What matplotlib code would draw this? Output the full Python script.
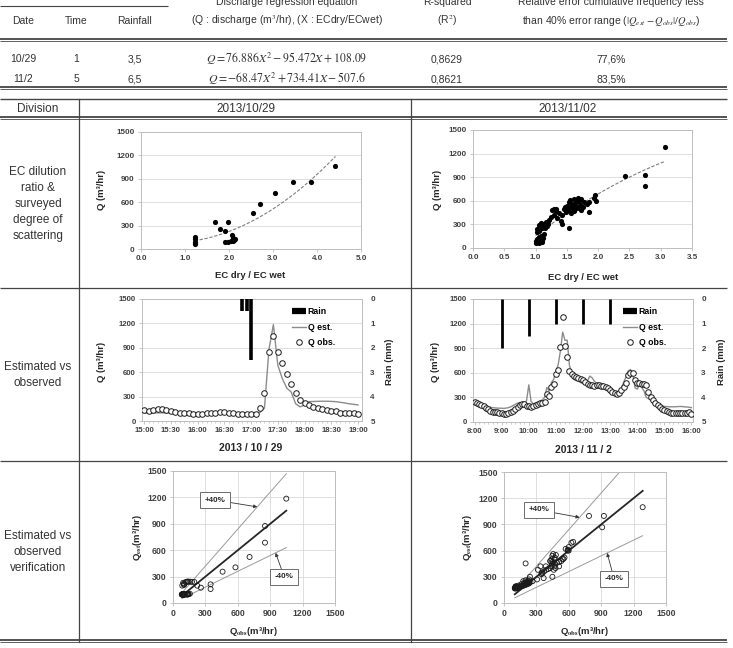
import numpy as np
import matplotlib.pyplot as plt
from matplotlib.lines import Line2D

# ---- data ----
# EC dilution ratio vs Q, 2013/10/29
ec_1029 = [4.42, 3.86, 3.45, 3.05, 2.70, 2.54, 1.98, 1.68, 1.80, 1.91, 2.06, 2.10,
           2.14, 1.92, 1.98, 2.04, 2.08, 2.11, 1.22, 1.22, 1.22, 1.22, 1.22]
q_1029 = [1059, 857, 857, 724, 579, 459, 351, 351, 261, 231, 180, 137,
          124, 86, 94, 107, 103, 116, 150, 124, 94, 73, 60]
fit_1029 = [76.886, -95.472, 108.09]

# EC dilution ratio vs Q, 2013/11/02
ec_1102 = [1.00, 1.01, 1.02, 1.03, 1.04, 1.05, 1.06, 1.07, 1.08, 1.09, 1.10, 1.11, 1.12,
           1.02, 1.03, 1.05, 1.06, 1.08, 1.10, 1.12, 1.13, 1.15, 1.17, 1.18, 1.20,
           1.22, 1.25, 1.27, 1.29, 1.30, 1.32, 1.33, 1.35, 1.38, 1.40, 1.42,
           1.43, 1.45, 1.47, 1.48, 1.50, 1.52, 1.53, 1.54, 1.55, 1.56, 1.57, 1.58, 1.60, 1.61, 1.62,
           1.63, 1.65, 1.66, 1.68, 1.70, 1.71, 1.72, 1.73, 1.75, 1.77,
           1.82, 1.86, 1.86, 1.93, 1.95, 1.97, 2.43, 2.75, 2.75, 3.07]
q_1102 = [90, 60, 120, 75, 100, 140, 65, 110, 85, 150, 70, 95, 125,
          200, 240, 290, 220, 320, 260, 300, 180, 250, 330, 280, 310,
          360, 400, 480, 500, 420, 470, 500, 380, 440, 340, 300,
          420, 500, 520, 460, 540, 480, 250, 590, 610, 520, 450, 560, 500, 620, 470,
          540, 580, 510, 630, 600, 550, 480, 620, 520, 590,
          560, 456, 590, 640, 680, 600, 917, 934, 790, 1284]
fit_1102 = [-68.47, 734.41, -507.6]

# time series 2013/10/29, 5 min steps from 15:00
obs_1029 = [136, 127, 136, 143, 143, 135, 125, 108, 100, 95, 94, 90, 86,
            86, 94, 100, 102, 105, 110, 100, 94, 86, 90, 82, 82, 86,
            156, 348, 852, 1049, 852, 709, 578, 459, 348, 258, 225,
            197, 176, 160, 143, 135, 127, 119, 94, 102, 102, 102, 86]
est_1029 = [98, 97, 99, 100, 100, 99, 98, 97, 96, 96, 97, 98, 98,
            97, 96, 97, 98, 99, 98, 97, 96, 97, 98, 97, 96, 97,
            105, 159, 875, 1186, 686, 523, 405, 356, 212, 174, 197,
            239, 240, 242, 243, 243, 241, 238, 230, 222, 212, 205, 198]
rain_t_1029 = [110, 115, 120]          # minutes after 15:00
rain_1029 = [0.5, 0.5, 2.5]
ticks_1029 = ['15:00', '15:30', '16:00', '16:30', '17:00', '17:30', '18:00', '18:30', '19:00']

# time series 2013/11/02, 5 min steps from 8:00
obs_1102 = [245, 232, 220, 205, 190, 172, 155, 140, 128, 122, 118, 115,
            108, 100, 102, 108, 120, 135, 160, 185, 210, 222, 215, 200,
            200, 178, 190, 205, 218, 226, 232, 240, 338, 314, 428, 469,
            591, 640, 909, 1284, 925, 787, 624, 590, 560, 550, 542, 530,
            510, 490, 469, 455, 448, 440, 448, 457, 445, 436, 428, 410,
            390, 370, 355, 346, 350, 387, 430, 480, 571, 599, 599, 510,
            477, 472, 469, 461, 448, 367, 306, 265, 232, 205, 183, 160,
            143, 130, 120, 112, 110, 110, 110, 108, 110, 112, 115, 122, 100]
est_1102 = [240, 228, 220, 212, 205, 195, 188, 180, 175, 172, 170, 168,
            168, 166, 170, 175, 185, 200, 215, 230, 238, 232, 220, 260,
            453, 250, 222, 230, 240, 255, 270, 300, 420, 380, 480, 520,
            610, 700, 867, 1097, 997, 997, 690, 600, 520, 505, 500, 480,
            470, 460, 500, 560, 540, 500, 470, 460, 440, 420, 400, 390,
            380, 360, 340, 330, 350, 420, 480, 550, 620, 640, 600, 420,
            400, 450, 420, 380, 300, 285, 270, 250, 224, 210, 200, 195,
            190, 188, 186, 185, 185, 186, 188, 190, 188, 185, 183, 180, 175]
rain_t_1102 = [9, 10, 11, 12, 13]      # hours
rain_1102 = [2.0, 1.5, 1.0, 1.0, 1.0]
ticks_1102 = ['8:00', '9:00', '10:00', '11:00', '12:00', '13:00', '14:00', '15:00', '16:00']

# summary table
tab_rows = [
    ['10/29', '1', '3,5', r'$Q=76.886X^2-95.472X+108.09$', '0,8629', '77,6%'],
    ['11/2', '5', '6,5', r'$Q=-68.47X^2+734.41X-507.6$', '0,8621', '83,5%'],
]

W, H = 733, 648
plt.rcParams['font.family'] = ['Liberation Sans', 'DejaVu Sans']
plt.rcParams['mathtext.fontset'] = 'stix'

fig = plt.figure(figsize=(W / 100, H / 100), dpi=100)
bg = fig.add_axes([0, 0, 1, 1])
bg.set_xlim(0, W)
bg.set_ylim(H, 0)
bg.axis('off')

LC = '#444444'
TC = '#333333'


def box(x0, y0, x1, y1):
    return fig.add_axes([x0 / W, 1 - y1 / H, (x1 - x0) / W, (y1 - y0) / H])


def hline(y, x0=0, x1=727, lw=0.8, c=LC):
    bg.plot([x0, x1], [y, y], color=c, lw=lw, solid_capstyle='butt')


def dline(y):
    hline(y, lw=1.3)
    hline(y + 2.2, lw=0.6)


def txt(x, y, s, size=8, **kw):
    kw.setdefault('ha', 'center')
    kw.setdefault('va', 'center')
    kw.setdefault('color', TC)
    bg.text(x, y, s, fontsize=size, **kw)


def style(ax, xt, xl, yt, yl, size=5.8, grid='y'):
    ax.set_xticks(xt, xl, fontweight='bold')
    ax.set_yticks(yt, yl, fontweight='bold')
    for s in ax.spines.values():
        s.set_color('#bdbdbd')
        s.set_linewidth(0.7)
    ax.grid(axis=grid, color='#d9d9d9', lw=0.6)
    ax.set_axisbelow(True)
    ax.tick_params(labelsize=size, color='#bdbdbd', labelcolor='#404040',
                   length=2.5, width=0.6, pad=2)


# ---- top table ----
cols = [23, 76, 135, 287, 447, 611]
txt(287, 2, 'Discharge regression equation', 7.5)
txt(447, 2, 'R-squared', 7.5)
txt(611, 2, 'Relative error cumulative frequency less', 7.5)
hline(6, 0, 168, lw=0.8)
head = ['Date', 'Time', 'Rainfall', r'(Q : discharge (m$^3$/hr), (X : ECdry/ECwet)',
        r'(R$^2$)', r'than 40% error range ($|Q_{est}-Q_{obs}|/Q_{obs}$)']
for x, s in zip(cols, head):
    txt(x, 21, s, 7.5)
dline(39)
for row, y in zip(tab_rows, [59, 79]):
    for x, s in zip(cols, row):
        txt(x, y, s, 8.5 if s.startswith('$') else 7.5)
dline(87)

# ---- lower table frame ----
hline(99, lw=1.0)
dline(117)
hline(288, lw=0.9)
hline(461, lw=0.9)
dline(640)
for x in [79, 411]:
    bg.plot([x, x], [99, 642], color=LC, lw=0.9)
txt(38, 109, 'Division', 8.5)
txt(246, 109, '2013/10/29', 8.5)
txt(568, 109, '2013/11/02', 8.5)
txt(38, 204, 'EC dilution\nratio &\nsurveyed\ndegree of\nscattering', 8.5, linespacing=1.45)
txt(38, 375, 'Estimated vs\nobserved', 8.5, linespacing=1.45)
txt(38, 552, 'Estimated vs\nobserved\nverification', 8.5, linespacing=1.45)

bold = dict(fontweight='bold', color='#262626')
qticks = [0, 300, 600, 900, 1200, 1500]
qlabs = [str(v) for v in qticks]

# ---- row 1: EC ratio scatter ----
ax = box(141, 132, 361, 249)
ax.scatter(ec_1029, q_1029, s=14, color='black', zorder=3, lw=0)
xs = np.linspace(min(ec_1029), max(ec_1029), 60)
ax.plot(xs, np.polyval(fit_1029, xs), ls=(0, (3, 1.5)), color='#7f7f7f', lw=0.8)
ax.set_xlim(0, 5)
ax.set_ylim(0, 1500)
style(ax, np.arange(0, 5.1, 1.0), ['0.0', '1.0', '2.0', '3.0', '4.0', '5.0'], qticks, qlabs)
txt(213, 141, 'y = 76.886x² - 95.472x + 108.09', 6.3, **bold)
txt(215, 153, 'R² = 0.8629', 6.3, **bold)
txt(250, 276, 'EC dry / EC wet', 6.8, **bold)
txt(102, 190, 'Q (m³/hr)', 6.8, rotation=90, **bold)

ax = box(473, 130, 692, 248)
ax.scatter(ec_1102, q_1102, s=14, color='black', zorder=3, lw=0)
xs = np.linspace(min(ec_1102), max(ec_1102), 60)
ax.plot(xs, np.polyval(fit_1102, xs), ls=(0, (3, 1.5)), color='#7f7f7f', lw=0.8)
ax.set_xlim(0, 3.5)
ax.set_ylim(0, 1500)
style(ax, np.arange(0, 3.6, 0.5), ['0.0', '0.5', '1.0', '1.5', '2.0', '2.5', '3.0', '3.5'],
      qticks, qlabs)
txt(568, 148, 'y = -68.47x² + 734.41x - 507.6', 6.3, **bold)
txt(568, 161, 'R² = 0.8621', 6.3, **bold)
txt(583, 277, 'EC dry / EC wet', 6.8, **bold)
txt(438, 190, 'Q (m³/hr)', 6.8, rotation=90, **bold)


# ---- row 2: time series ----
def series(ax, t, obs, est, rt, rv, xt, xl, xlim, minor, barw):
    ax.plot(t, est, color='#8c8c8c', lw=1.0, zorder=2)
    ax.plot(t, obs, ls='none', marker='o', ms=4, mfc='white', mec='#1a1a1a', mew=0.7, zorder=3)
    ax.set_xlim(*xlim)
    ax.set_ylim(0, 1500)
    style(ax, xt, xl, qticks, qlabs, size=5.6)
    ax.set_xticks(minor, minor=True)
    ax.tick_params(axis='x', which='minor', length=1.5, color='#bdbdbd', width=0.5)
    ax2 = ax.twinx()
    ax2.vlines(rt, 0, rv, color='black', lw=barw)
    ax2.set_ylim(5, 0)
    ax2.set_yticks([0, 1, 2, 3, 4, 5], ['0', '1', '2', '3', '4', '5'], fontweight='bold')
    ax2.tick_params(labelsize=5.8, length=0, labelcolor='#404040', pad=6)
    for s in ax2.spines.values():
        s.set_visible(False)
    hs = [Line2D([], [], color='black', lw=4.5, solid_capstyle='butt'),
          Line2D([], [], color='#8c8c8c', lw=1.0),
          Line2D([], [], ls='none', marker='o', ms=4, mfc='white', mec='#1a1a1a', mew=0.7)]
    ax2.legend(hs, ['Rain', 'Q est.', 'Q obs.'], loc='upper left', bbox_to_anchor=(0.66, 0.97),
               frameon=False, handlelength=1.7, handletextpad=0.15, labelspacing=0.75,
               borderpad=0, prop=dict(size=6.3, weight='bold'))
    return ax2


t1 = np.arange(len(obs_1029)) * 5
ax = box(142, 299, 362, 421)
series(ax, t1, obs_1029, est_1029, rain_t_1029, rain_1029, np.arange(0, 241, 30), ticks_1029,
       (-2.5, 244.5), np.arange(0, 241, 5), 2.6)
txt(102, 362, 'Q (m³/hr)', 6.8, rotation=90, **bold)
txt(389, 362, 'Rain (mm)', 6.8, rotation=90, **bold)
txt(251, 448, '2013 / 10 / 29', 7.5, **bold)

t2 = 8 + np.arange(len(obs_1102)) * 5 / 60
ax = box(473, 299, 693, 422)
series(ax, t2, obs_1102, est_1102, rain_t_1102, rain_1102, np.arange(8, 16.1, 1), ticks_1102,
       (7.94, 16.06), 8 + np.arange(0, 97, 2) * 5 / 60, 2.0)
txt(436, 362, 'Q (m³/hr)', 6.8, rotation=90, **bold)
txt(722, 362, 'Rain (mm)', 6.8, rotation=90, **bold)
txt(583, 450, '2013 / 11 / 2', 7.5, **bold)


# ---- row 3: verification ----
def verify(ax, obs, est, plus, minus):
    obs = np.asarray(obs, float)
    est = np.asarray(est, float)
    xl = np.array([obs.min(), obs.max()])
    ax.plot(xl, xl * 1.4, color='#9a9a9a', lw=0.7)
    ax.plot(xl, xl * 0.6, color='#9a9a9a', lw=0.7)
    ax.plot(xl, xl, color='#262626', lw=1.3)
    ax.scatter(obs, est, s=13, facecolors='none', edgecolors='#1a1a1a', lw=0.6, zorder=3)
    ax.set_xlim(0, 1500)
    ax.set_ylim(0, 1500)
    style(ax, qticks, qlabs, qticks, qlabs, size=6.3, grid='both')
    bb = dict(boxstyle='square,pad=0.55', fc='white', ec='#555555', lw=0.6)
    ap = dict(arrowstyle='-|>', color='#333333', lw=0.6, mutation_scale=5, shrinkA=0, shrinkB=0)
    for (tx, ty, px, py), s in zip([plus, minus], ['+40%', '-40%']):
        ax.annotate(s, xy=(px, py), xytext=(tx, ty), fontsize=5.8, fontweight='bold',
                    color='#262626', ha='center', va='center', bbox=bb, arrowprops=ap)


ax = box(173, 471, 335, 603)
verify(ax, obs_1029, est_1029, (390, 1170, 780, 1092), (1030, 296, 950, 570))
txt(138, 537, r'Q$_{\mathbf{est}}$(m³/hr)', 6.8, rotation=90, **bold)
txt(254, 631, r'Q$_{\mathbf{obs}}$(m³/hr)', 6.8, **bold)

ax = box(504, 472, 666, 603)
verify(ax, obs_1102, est_1102, (325, 1065, 700, 980), (1020, 275, 955, 573))
txt(467, 537, r'Q$_{\mathbf{est}}$(m³/hr)', 6.8, rotation=90, **bold)
txt(585, 631, r'Q$_{\mathbf{obs}}$(m³/hr)', 6.8, **bold)

fig.savefig('out.png', dpi=100)
